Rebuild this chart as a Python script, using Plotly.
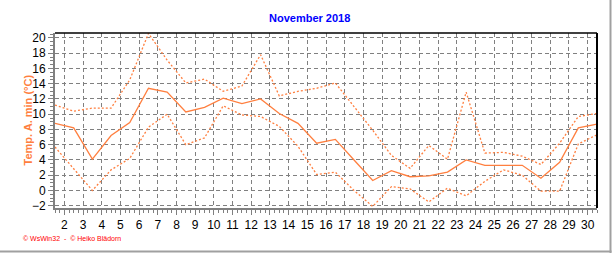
import plotly.graph_objects as go

# ---- data ----
days = list(range(1, 31))
temp_max = [11.2, 10.4, 10.8, 10.8, 14.5, 20.6, 17.1, 14.1, 14.6, 13.0,
            13.7, 17.8, 12.4, 13.0, 13.4, 14.1, 11.0, 7.9, 4.6, 2.9,
            5.9, 4.1, 12.9, 4.9, 5.0, 4.5, 3.4, 6.2, 9.7, 10.1]
temp_mean = [8.8, 8.2, 4.1, 7.2, 8.9, 13.4, 12.9, 10.3, 10.9, 12.1,
             11.4, 12.0, 10.1, 8.8, 6.2, 6.7, 4.0, 1.3, 2.6, 1.8,
             1.9, 2.4, 4.0, 3.3, 3.3, 3.3, 1.6, 3.7, 8.2, 8.7]
temp_min = [5.7, 2.9, 0.0, 2.7, 4.2, 8.3, 10.0, 6.0, 6.9, 11.1,
            9.9, 9.7, 8.4, 5.8, 2.1, 2.4, 0.0, -2.1, 0.5, 0.2,
            -1.5, 0.3, -0.7, 1.2, 2.7, 2.0, -0.1, -0.1, 6.1, 7.3]
x_tick_vals = list(range(2, 31))
y_tick_vals = list(range(-2, 21, 2))

title_text = "November 2018"
y_title = "Temp. A. min (°C)"
footer = "© WsWin32  -  © Heiko Blädorn"

ORANGE = "#FF7F3F"
GRID = "#808080"

xs = [d + 0.5 for d in days]

fig = go.Figure()
fig.add_trace(go.Scatter(x=xs, y=temp_max, mode="lines",
                         line=dict(color=ORANGE, width=1.3, dash="2px,2px")))
fig.add_trace(go.Scatter(x=xs, y=temp_min, mode="lines",
                         line=dict(color=ORANGE, width=1.3, dash="2px,2px")))
fig.add_trace(go.Scatter(x=xs, y=temp_mean, mode="lines",
                         line=dict(color=ORANGE, width=1.3)))

fig.update_layout(
    width=616, height=253,
    margin=dict(l=55, r=19, t=33, b=45),
    paper_bgcolor="white", plot_bgcolor="white",
    showlegend=False,
    font=dict(family="Liberation Sans, Arial, sans-serif", size=12, color="black"),
    xaxis=dict(
        range=[1.5, 30.5], tickmode="array", tickvals=x_tick_vals,
        ticktext=[str(v) for v in x_tick_vals],
        showgrid=True, gridcolor=GRID, griddash="4px,3px", gridwidth=1,
        showline=True, linecolor=GRID, linewidth=2,
        ticks="outside", ticklen=5, tickcolor=GRID, tickwidth=1,
        minor=dict(dtick=0.25, tick0=0, ticks="outside", ticklen=3,
                   tickcolor=GRID, showgrid=False),
        zeroline=False, fixedrange=True,
    ),
    yaxis=dict(
        range=[-2.3, 20.65], tickmode="array", tickvals=y_tick_vals,
        showgrid=True, gridcolor=GRID, griddash="4px,3px", gridwidth=1,
        showline=True, linecolor=GRID, linewidth=2,
        ticks="outside", ticklen=5, tickcolor=GRID, tickwidth=1,
        minor=dict(dtick=0.5, tick0=0, ticks="outside", ticklen=3,
                   tickcolor=GRID, showgrid=False),
        zeroline=False, fixedrange=True,
    ),
    annotations=[
        dict(text="<b>" + title_text + "</b>", xref="paper", yref="paper",
             x=(309 - 55) / 542, y=(208 - 18) / 175, xanchor="center", yanchor="middle",
             showarrow=False, font=dict(size=11, color="#0000FF")),
        dict(text="<b>" + y_title + "</b>", xref="paper", yref="paper",
             x=(27 - 55) / 542, y=0.5, xanchor="center", yanchor="middle",
             textangle=-90, showarrow=False, font=dict(size=11, color=ORANGE)),
        dict(text=footer, xref="paper", yref="paper",
             x=(21 - 55) / 542, y=(208 - 239) / 175, xanchor="left", yanchor="middle",
             showarrow=False, font=dict(size=7, color="#FF0000")),
    ],
    shapes=[
        # black top and right plot border
        dict(type="line", xref="paper", yref="paper", x0=0, x1=1, y0=1, y1=1,
             line=dict(color="black", width=1.5)),
        dict(type="line", xref="paper", yref="paper", x0=1, x1=1, y0=0, y1=1,
             line=dict(color="black", width=2)),
        # outer gray frame (right and bottom)
        dict(type="line", xref="paper", yref="paper",
             x0=(610.5 - 55) / 542, x1=(610.5 - 55) / 542,
             y0=(208 - 253) / 175, y1=(208 - 0) / 175,
             line=dict(color="#A0A0A0", width=2)),
        dict(type="line", xref="paper", yref="paper",
             x0=(0 - 55) / 542, x1=(611.5 - 55) / 542,
             y0=(208 - 251.5) / 175, y1=(208 - 251.5) / 175,
             line=dict(color="#A0A0A0", width=2)),
    ],
)

fig.write_html("out.html")
